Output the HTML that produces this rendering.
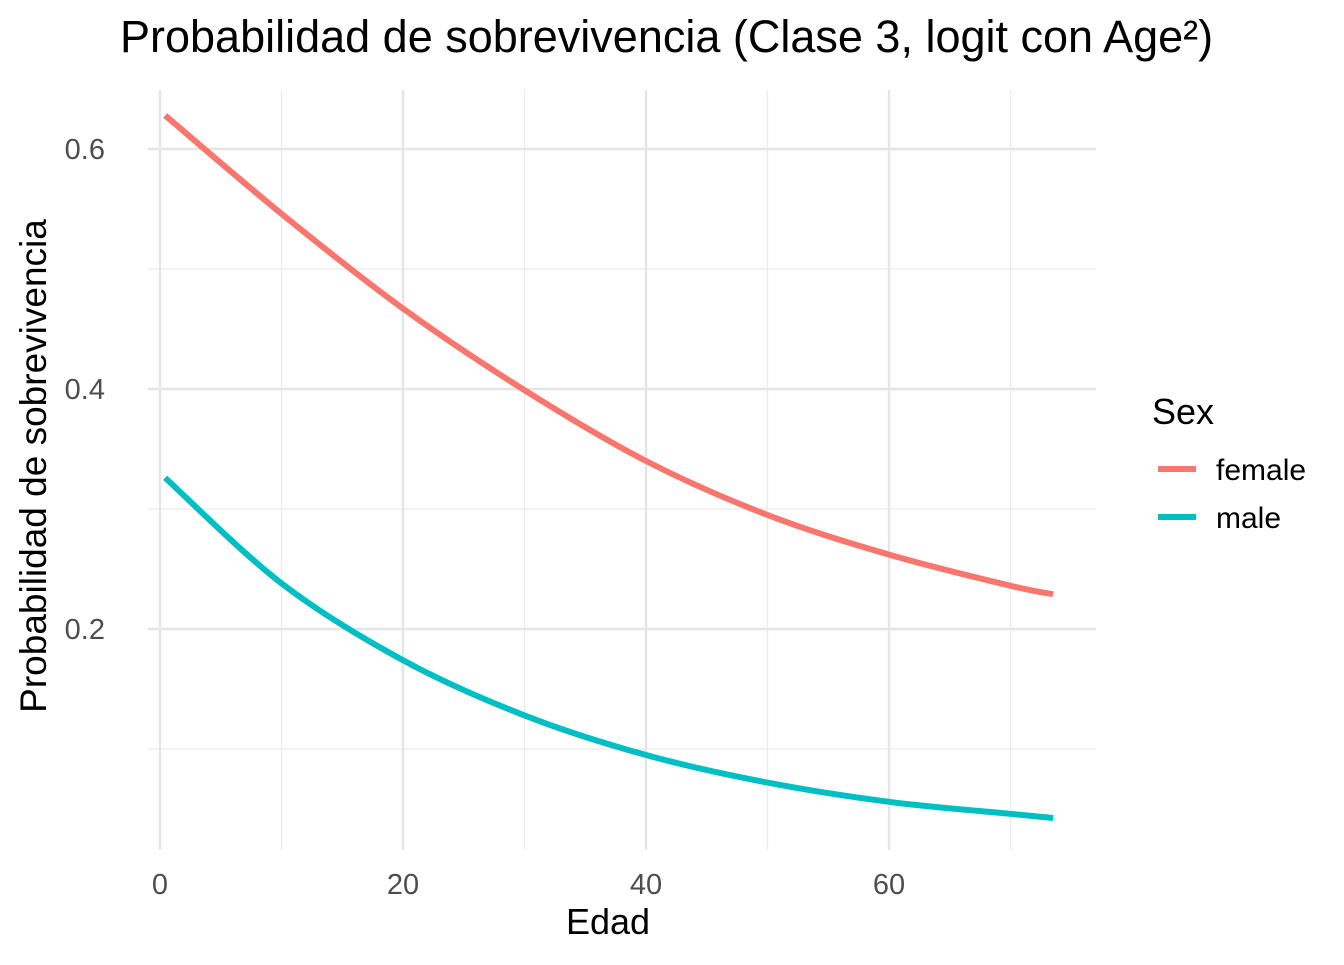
<!DOCTYPE html>
<html><head><meta charset="utf-8"><style>
body{margin:0;background:#fff;}
svg text{font-family:"Liberation Sans",Arial,sans-serif;}
</style></head><body>
<svg id="chart" width="1344" height="960" xmlns="http://www.w3.org/2000/svg">
<text x="120" y="52" font-size="45" fill="#000">Probabilidad de sobrevivencia (Clase 3, logit con Age²)</text>
<g id="grid"></g>
<g id="ticks"></g>
<g id="lines"></g>
<text x="608" y="934" font-size="36" text-anchor="middle">Edad</text>
<text transform="translate(46,466) rotate(-90)" font-size="37" text-anchor="middle">Probabilidad de sobrevivencia</text>
<g>
<text x="1152" y="424" font-size="36">Sex</text>
<line x1="1158" x2="1196" y1="469" y2="469" stroke="#F8766D" stroke-width="6"/>
<text x="1216" y="480" font-size="30">female</text>
<line x1="1158" x2="1196" y1="517" y2="517" stroke="#00BFC4" stroke-width="6"/>
<text x="1216" y="528" font-size="30">male</text>
</g>
</svg>
<script>
const ages = [0.42,10,20,30,40,50,60,70,73.5];
const female = [0.628,0.546,0.467,0.399,0.340,0.295,0.262,0.236,0.229];
const male = [0.326,0.238,0.174,0.128,0.095,0.072,0.056,0.046,0.0425];
const xTicks = [0,20,40,60];
const yTicks = [0.2,0.4,0.6];
const xMinor = [10,30,50,70];
const yMinor = [0.1,0.3,0.5];
const NS="http://www.w3.org/2000/svg";
const X=v=>160+v*12.15, Y=v=>869-v*1200;
const L=148,R=1096,T=90,B=850;
function mk(tag,attrs,parent){const e=document.createElementNS(NS,tag);for(const k in attrs)e.setAttribute(k,attrs[k]);parent.appendChild(e);return e;}
const grid=document.getElementById('grid'),ticks=document.getElementById('ticks'),lines=document.getElementById('lines');
xMinor.forEach(v=>{const e=mk('line',{x1:X(v),x2:X(v),y1:T,y2:B,stroke:'#ebebeb','stroke-width':1.2},grid);

});
yMinor.forEach(v=>{const e=mk('line',{x1:L,x2:R,y1:Y(v),y2:Y(v),stroke:'#ebebeb','stroke-width':1.2},grid);

});
xTicks.forEach(v=>{const e=mk('line',{x1:X(v),x2:X(v),y1:T,y2:B,stroke:'#e5e5e5','stroke-width':2.4},grid);


const t=mk('text',{x:X(v),y:894,'font-size':29,fill:'#4d4d4d','text-anchor':'middle'},ticks);t.textContent=v;

});
yTicks.forEach(v=>{const e=mk('line',{x1:L,x2:R,y1:Y(v),y2:Y(v),stroke:'#e5e5e5','stroke-width':2.4},grid);


const t=mk('text',{x:105,y:Y(v)+10,'font-size':29,fill:'#4d4d4d','text-anchor':'end'},ticks);t.textContent=v.toFixed(1);

});
function path(vals){const p=ages.map((a,i)=>[X(a),Y(vals[i])]);let d=`M${p[0][0]},${p[0][1]}`;
for(let i=0;i<p.length-1;i++){const p0=p[Math.max(i-1,0)],p1=p[i],p2=p[i+1],p3=p[Math.min(i+2,p.length-1)];
const c1=[p1[0]+(p2[0]-p0[0])/6,p1[1]+(p2[1]-p0[1])/6],c2=[p2[0]-(p3[0]-p1[0])/6,p2[1]-(p3[1]-p1[1])/6];
d+=` C${c1[0]},${c1[1]} ${c2[0]},${c2[1]} ${p2[0]},${p2[1]}`;}return d;}
const f=mk('path',{d:path(female),fill:'none',stroke:'#F8766D','stroke-width':6},lines);


const m=mk('path',{d:path(male),fill:'none',stroke:'#00BFC4','stroke-width':6},lines);


</script>
</body></html>
